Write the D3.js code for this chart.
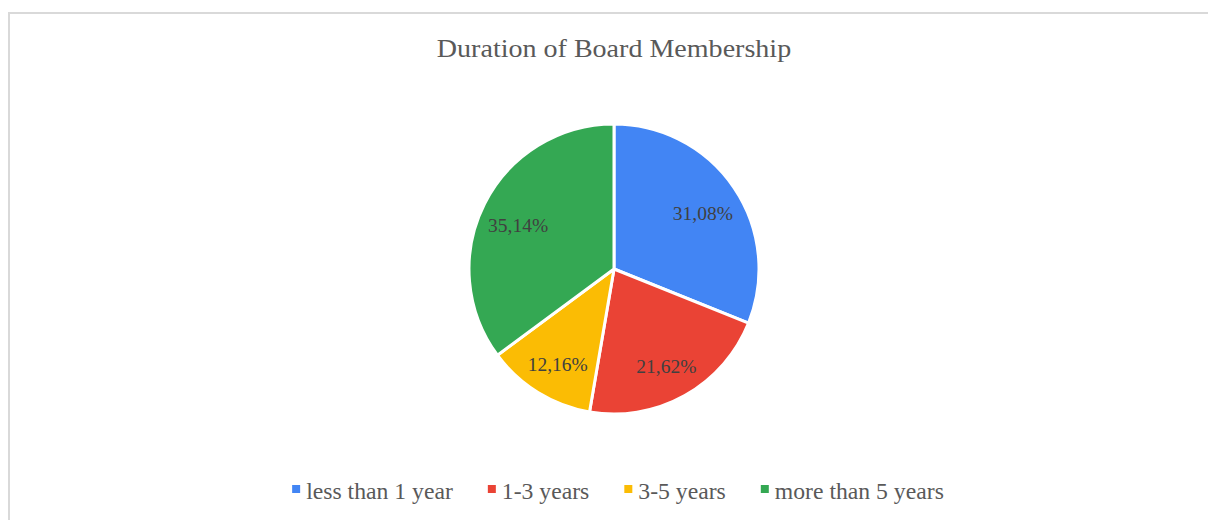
<!DOCTYPE html>
<html>
<head>
<meta charset="utf-8">
<script src="https://cdn.jsdelivr.net/npm/d3@7"></script>
<style>
html,body{margin:0;padding:0;background:#fff;}
svg{display:block;}
</style>
</head>
<body>
<svg id="chart" width="1208" height="520"></svg>
<script>
const title = "Duration of Board Membership";
const categories = ["less than 1 year", "1-3 years", "3-5 years", "more than 5 years"];
const values = [31.08, 21.62, 12.16, 35.14];
const labels = ["31,08%", "21,62%", "12,16%", "35,14%"];
const colors = ["#4285F4", "#EA4335", "#FBBC04", "#34A853"];

const svg = d3.select("#chart");
const W = 1208, H = 520;
const font = "'Liberation Serif','Times New Roman',serif";

// chart border
svg.append("rect").attr("x", 9).attr("y", 13).attr("width", W + 20).attr("height", H + 20)
  .attr("fill", "#fff").attr("stroke", "#d9d9d9").attr("stroke-width", 2);

// title
svg.append("text").attr("transform", "translate(614,57) scale(1.1,1)").attr("text-anchor", "middle")
  .attr("font-family", font).attr("font-size", 25.5).attr("fill", "#595959").text(title);

const cx = 614, cy = 269, r = 145;
const pie = d3.pie().sort(null).value(d => d)(values);
const arc = d3.arc().innerRadius(0).outerRadius(r);
const labelArc = d3.arc().innerRadius(r * 0.74).outerRadius(r * 0.74);

const g = svg.append("g").attr("transform", `translate(${cx},${cy})`);
g.selectAll("path").data(pie).join("path")
  .attr("d", arc).attr("fill", (d, i) => colors[i])
  .attr("stroke", "#fff").attr("stroke-width", 3).attr("stroke-linejoin", "round");

g.selectAll("text.lbl").data(pie).join("text").attr("class", "lbl")
  .attr("transform", d => { const c = labelArc.centroid(d); return `translate(${c[0]},${c[1] + 4})`; })
  .attr("text-anchor", "middle").attr("dy", "0.35em")
  .attr("font-family", font).attr("font-size", 19.5).attr("fill", "#404040")
  .text((d, i) => labels[i]);

// legend
const leg = svg.append("g");
const items = leg.selectAll("g").data(categories).join("g");
items.append("rect").attr("width", 8).attr("height", 8).attr("y", -14)
  .attr("fill", (d, i) => colors[i]);
items.append("text").attr("x", 14).attr("y", 0)
  .attr("font-family", font).attr("font-size", 23.7).attr("fill", "#595959").text(d => d);
let x = 0;
const gap = 35;
items.each(function() {
  const t = d3.select(this).select("text").node().getComputedTextLength();
  d3.select(this).attr("transform", `translate(${x},0)`);
  x += 14 + t + gap;
});
const total = x - gap;
leg.attr("transform", `translate(${618 - total / 2},499)`);
</script>
</body>
</html>
